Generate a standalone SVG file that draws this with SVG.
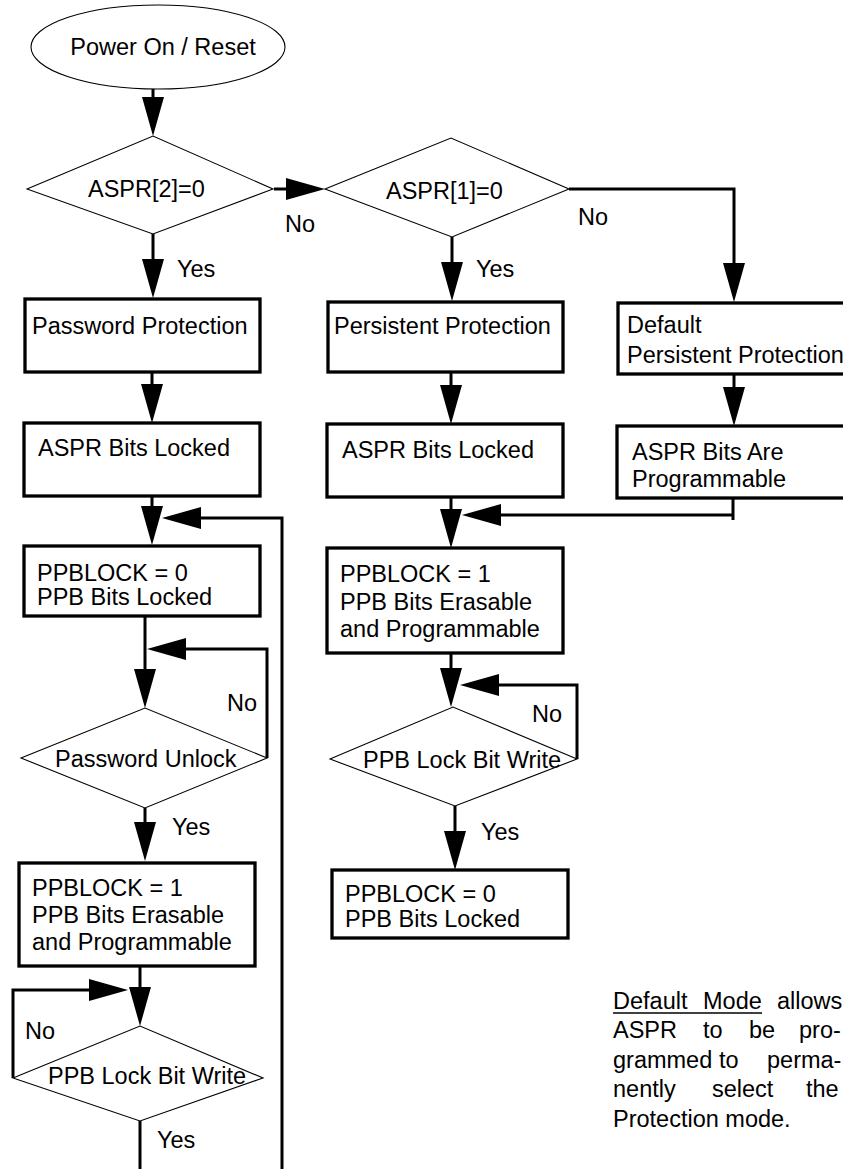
<svg xmlns="http://www.w3.org/2000/svg" width="843" height="1169" viewBox="0 0 843 1169">
<defs>
<style>
text{font-family:"Liberation Sans",Arial,sans-serif;font-size:23.5px;fill:#000}
.box{fill:#fff;stroke:#000;stroke-width:3.3}
.dia{fill:#fff;stroke:#000;stroke-width:1.1}
.con{fill:none;stroke:#000;stroke-width:3;marker-end:url(#ah)}
.con0{fill:none;stroke:#000;stroke-width:3}
</style>
<marker id="ah" markerUnits="userSpaceOnUse" markerWidth="40" markerHeight="24" refX="29" refY="11" orient="auto"><path d="M0,0 L39,11 L0,22 Z" fill="#000"/></marker>
</defs>
<rect width="843" height="1169" fill="#fff"/>
<g id="connectors">
<path class="con" d="M153,89 V126"/>
<path class="con" d="M153,234 V288"/>
<path class="con" d="M274,189 H315"/>
<path class="con" d="M452,237 V291"/>
<path class="con" d="M569,189 H734 V292"/>
<path class="con" d="M152,372 V413"/>
<path class="con" d="M152,496 V535"/>
<path class="con" d="M282,1169 V518 H172"/>
<path class="con" d="M145,616 V698"/>
<path class="con" d="M267,758 V649 H157"/>
<path class="con" d="M145,808 V851"/>
<path class="con" d="M140,966 V1016"/>
<path class="con" d="M13,1078 V990 H118"/>
<path class="con0" d="M140,1121 V1169"/>
<path class="con" d="M451,372 V414"/>
<path class="con" d="M734,374 V416"/>
<path class="con0" d="M733,498 V520"/>
<path class="con" d="M733,515 H472"/>
<path class="con" d="M451,497 V538"/>
<path class="con" d="M451,653 V697"/>
<path class="con" d="M577,759 V685 H470"/>
<path class="con" d="M455,806 V860"/>
<text x="285" y="232">No</text>
<text x="578" y="225">No</text>
<text x="177" y="277">Yes</text>
<text x="476" y="277">Yes</text>
<text x="227" y="711">No</text>
<text x="172" y="835">Yes</text>
<text x="25" y="1039">No</text>
<text x="157" y="1148">Yes</text>
<text x="532" y="722">No</text>
<text x="481" y="840">Yes</text>
</g>
<g id="start">
<ellipse cx="158" cy="47" rx="127" ry="42" class="dia"/>
<text x="163" y="55" text-anchor="middle">Power On / Reset</text>
</g>
<g id="d1">
<polygon class="dia" points="27,189 153,136 273,189 153,234"/>
<text x="88" y="197">ASPR[2]=0</text>
</g>
<g id="d2">
<polygon class="dia" points="325,189 451,138 569,189 452,237"/>
<text x="386" y="199">ASPR[1]=0</text>
</g>
<g id="b1">
<rect class="box" x="25" y="299" width="235" height="73"/>
<text x="32" y="334">Password Protection</text>
</g>
<g id="b2">
<rect class="box" x="328" y="302" width="235" height="70"/>
<text x="334" y="334">Persistent Protection</text>
</g>
<g id="b3">
<rect class="box" x="618" y="303" width="240" height="71"/>
<text x="627" y="333">Default</text>
<text x="627" y="363">Persistent Protection</text>
</g>
<g id="b4">
<rect class="box" x="24" y="423" width="236" height="73"/>
<text x="38" y="456">ASPR Bits Locked</text>
</g>
<g id="b5">
<rect class="box" x="327" y="424" width="236" height="73"/>
<text x="342" y="458">ASPR Bits Locked</text>
</g>
<g id="b6">
<rect class="box" x="617" y="426" width="240" height="72"/>
<text x="632" y="460">ASPR Bits Are</text>
<text x="632" y="487">Programmable</text>
</g>
<g id="b8">
<rect class="box" x="24" y="546" width="236" height="70"/>
<text x="37" y="581">PPBLOCK = 0</text>
<text x="37" y="605">PPB Bits Locked</text>
</g>
<g id="b7">
<rect class="box" x="327" y="548" width="236" height="105"/>
<text x="340" y="582">PPBLOCK = 1</text>
<text x="340" y="610">PPB Bits Erasable</text>
<text x="340" y="637">and Programmable</text>
</g>
<g id="d3">
<polygon class="dia" points="21,758 145,708 267,758 145,808"/>
<text x="55" y="767">Password Unlock</text>
</g>
<g id="d5">
<polygon class="dia" points="330,759 453,707 577,759 455,806"/>
<text x="363" y="768">PPB Lock Bit Write</text>
</g>
<g id="b9">
<rect class="box" x="19" y="863" width="236" height="103"/>
<text x="32" y="896">PPBLOCK = 1</text>
<text x="32" y="923">PPB Bits Erasable</text>
<text x="32" y="950">and Programmable</text>
</g>
<g id="b10">
<rect class="box" x="332" y="870" width="236" height="68"/>
<text x="345" y="902">PPBLOCK = 0</text>
<text x="345" y="927">PPB Bits Locked</text>
</g>
<g id="d4">
<polygon class="dia" points="13,1078 140,1026 263,1078 140,1121"/>
<text x="48" y="1084">PPB Lock Bit Write</text>
</g>
<g id="note">
<text y="1009"><tspan x="613">Default</tspan><tspan x="703">Mode</tspan><tspan x="777">allows</tspan></text>
<line x1="613" y1="1013" x2="762" y2="1013" stroke="#000" stroke-width="1.5"/>
<text y="1038"><tspan x="613">ASPR</tspan><tspan x="703">to</tspan><tspan x="749">be</tspan><tspan x="799">pro-</tspan></text>
<text y="1068"><tspan x="613">grammed</tspan><tspan x="719">to</tspan><tspan x="767">perma-</tspan></text>
<text y="1097"><tspan x="613">nently</tspan><tspan x="712">select</tspan><tspan x="806">the</tspan></text>
<text x="613" y="1127">Protection mode.</text>
</g>
</svg>
